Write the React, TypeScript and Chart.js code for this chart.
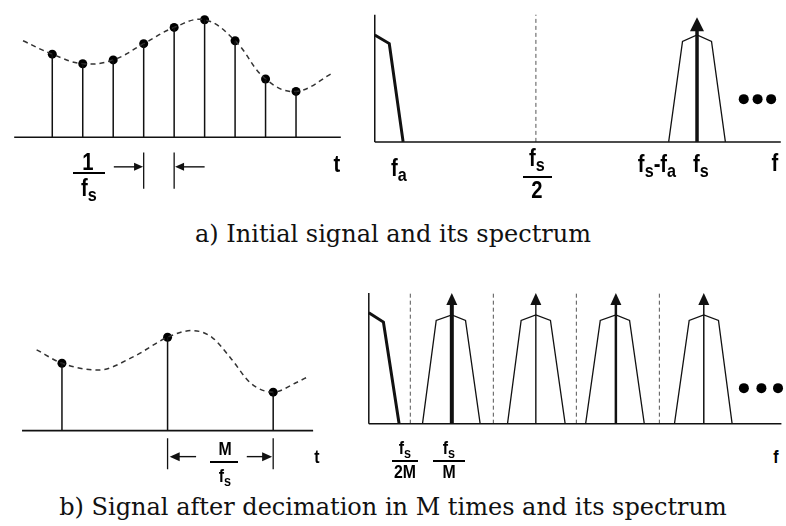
import React, { useEffect, useRef } from 'react';
import { Chart, registerables } from 'chart.js';

Chart.register(...registerables);

// ---------- a) initial signal (time in sample periods, arbitrary amplitude) ----------
const sampleTimes = [1, 2, 3, 4, 5, 6, 7, 8, 9];
const sampleValues = [0.87, 0.77, 0.81, 0.98, 1.15, 1.23, 1.01, 0.61, 0.48];
const signalCurveTimes = [0.04, 1, 2, 3, 4, 5, 6, 7, 8, 9, 10.25];
const signalCurveValues = [1.01, 0.87, 0.77, 0.81, 0.98, 1.15, 1.23, 1.01, 0.61, 0.48, 0.68];
const timeAxisExtent = [-0.25, 10.47];
const periodTicks = [4, 5];
const periodArrowRight = [3.02, 3.98];
const periodArrowLeft = [6.0, 5.03];

// ---------- a) spectrum (frequency in units of fs) ----------
const basebandFreq = [0, 0.045, 0.088];
const basebandMag = [1.0, 0.92, 0];
const imageFreq = [0.912, 0.955, 1.0, 1.045, 1.088];
const imageMag = [0, 0.94, 1.0, 0.94, 0];
const freqAxisExtent = [0, 1.26];
const freqAxisTop = 1.19;
const nyquistFreq = [0.5];
const lineArrowFreq = [1.0];
const lineArrowTip = 1.165;
const ellipsisFreq = [1.145, 1.188, 1.23];
const ellipsisMag = 0.4;

// ---------- b) decimated signal (time in decimated sample periods) ----------
const decSampleIdx = [1, 2, 3];
const decSampleValues = [0.7, 0.97, 0.4];
const decCurveIdx = [0.76, 1, 1.35, 1.68, 2.0, 2.23, 2.42, 2.6, 2.79, 3.0, 3.22, 3.33];
const decCurveValues = [0.84, 0.7, 0.63, 0.77, 0.97, 1.04, 0.97, 0.75, 0.49, 0.4, 0.5, 0.56];
const decTimeExtent = [0.622, 3.378];
const decPeriodTicks = [2, 3];
const decArrowLeft = [2.27, 2.02];
const decArrowRight = [2.75, 2.99];

// ---------- b) decimated spectrum (frequency in units of fs/M) ----------
const decBasebandFreq = [0, 0.176, 0.365];
const decBasebandMag = [1.0, 0.915, 0];
const decImageFreqs = [
  [0.647, 0.812, 1.0, 1.165, 1.341],
  [1.671, 1.835, 2.012, 2.188, 2.365],
  [2.612, 2.788, 2.976, 3.141, 3.318],
  [3.682, 3.859, 4.035, 4.212, 4.376],
];
const decImageMag = [0, 0.93, 0.98, 0.93, 0];
const decArrowFreq = [1.0, 2.012, 2.976, 4.035];
const decArrowWidths = [4, 1.4, 2.5, 1.5];
const decArrowTip = 1.178;
const decFoldFreq = [0.5, 1.5, 2.5, 3.5];
const decAxisExtent = [0, 4.97];
const decAxisTop = 1.178;
const decEllipsisFreq = [4.518, 4.729, 4.929];
const decEllipsisMag = 0.32;

const INK = '#111';
const DASH = '#555';
const LABEL_FONT = '"Liberation Sans Narrow", "Arial Narrow", "Liberation Sans", Arial, sans-serif';
const CAPTION_FONT = '"DejaVu Serif", Georgia, serif';

const pts = (xs: number[], ys: number[]) => xs.map((x, i) => ({ x, y: ys[i] }));

const line = (xs: number[], ys: number[], opts: any = {}) => ({
  data: pts(xs, ys),
  showLine: true,
  borderColor: INK,
  backgroundColor: INK,
  borderWidth: 1.3,
  pointRadius: 0,
  tension: 0,
  clip: false,
  ...opts,
});

const verticals = (xs: number[], y0: number | number[], y1: number | number[], opts: any = {}) => ({
  data: xs.flatMap((x, i) => [
    { x, y: Array.isArray(y0) ? y0[i] : y0 },
    { x, y: Array.isArray(y1) ? y1[i] : y1 },
    { x, y: null },
  ]),
  showLine: true,
  spanGaps: false,
  borderColor: INK,
  borderWidth: 1.3,
  pointRadius: 0,
  clip: false,
  ...opts,
});

const dots = (xs: number[], ys: number[], r: number) => ({
  data: pts(xs, ys),
  showLine: false,
  pointRadius: r,
  pointBackgroundColor: '#000',
  pointBorderColor: '#000',
  pointBorderWidth: 0,
  clip: false,
});

const arrow = (from: [number, number], to: [number, number], width: number, head: { length: number; width: number }) => ({
  data: [
    { x: from[0], y: from[1] },
    { x: to[0], y: to[1] },
  ],
  showLine: false,
  pointRadius: 0,
  borderColor: INK,
  borderWidth: width,
  arrow: head,
  clip: false,
});

const arrowPlugin = {
  id: 'arrows',
  afterDatasetsDraw(chart: any) {
    const ctx = chart.ctx;
    chart.data.datasets.forEach((ds: any, i: number) => {
      if (!ds.arrow) return;
      const el = chart.getDatasetMeta(i).data;
      const a = el[0];
      const b = el[el.length - 1];
      const dx = b.x - a.x;
      const dy = b.y - a.y;
      const len = Math.hypot(dx, dy) || 1;
      const ux = dx / len;
      const uy = dy / len;
      const L = ds.arrow.length;
      const W = ds.arrow.width / 2;
      const bx = b.x - ux * L;
      const by = b.y - uy * L;
      ctx.save();
      ctx.strokeStyle = ds.borderColor;
      ctx.lineWidth = ds.borderWidth;
      ctx.beginPath();
      ctx.moveTo(a.x, a.y);
      ctx.lineTo(bx + ux, by + uy);
      ctx.stroke();
      ctx.fillStyle = ds.borderColor;
      ctx.beginPath();
      ctx.moveTo(b.x, b.y);
      ctx.lineTo(bx - uy * W, by + ux * W);
      ctx.lineTo(bx + uy * W, by - ux * W);
      ctx.closePath();
      ctx.fill();
      ctx.restore();
    });
  },
};

type PanelProps = {
  left: number;
  top: number;
  width: number;
  height: number;
  x: [number, number];
  y: [number, number];
  datasets: any[];
};

function Panel(p: PanelProps) {
  const ref = useRef<HTMLCanvasElement>(null);
  useEffect(() => {
    const chart = new Chart(ref.current as HTMLCanvasElement, {
      type: 'scatter',
      data: { datasets: p.datasets },
      options: {
        responsive: false,
        animation: false,
        events: [],
        layout: { padding: 0 },
        plugins: { legend: { display: false }, tooltip: { enabled: false } },
        scales: {
          x: { type: 'linear', display: false, min: p.x[0], max: p.x[1] },
          y: { type: 'linear', display: false, min: p.y[0], max: p.y[1] },
        },
      } as any,
      plugins: [arrowPlugin],
    });
    return () => chart.destroy();
  }, []);
  return (
    <canvas
      ref={ref}
      width={p.width}
      height={p.height}
      style={{ position: 'absolute', left: p.left, top: p.top, width: p.width, height: p.height }}
    />
  );
}

function Sub({ children }: { children: any }) {
  return <span style={{ fontSize: '0.8em', position: 'relative', top: '0.28em' }}>{children}</span>;
}

function Txt({ x, base, size, sx = 0.88, children }: { x: number; base: number; size: number; sx?: number; children: any }) {
  return (
    <div
      style={{
        position: 'absolute',
        left: x,
        top: base - 0.8465 * size,
        transform: `translateX(-50%) scaleX(${sx})`,
        fontSize: size,
        lineHeight: 1,
        fontWeight: 'bold',
        fontFamily: LABEL_FONT,
        whiteSpace: 'nowrap',
        color: '#000',
      }}
    >
      {children}
    </div>
  );
}

function Bar({ x0, x1, y }: { x0: number; x1: number; y: number }) {
  return <div style={{ position: 'absolute', left: x0, top: y, width: x1 - x0, height: 1.5, background: '#000' }} />;
}

function Caption({ top, children }: { top: number; children: any }) {
  return (
    <div
      style={{
        position: 'absolute',
        left: 0,
        width: 786,
        top,
        textAlign: 'center',
        fontFamily: CAPTION_FONT,
        fontSize: 24,
        lineHeight: '28px',
        color: '#111',
        whiteSpace: 'nowrap',
      }}
    >
      {children}
    </div>
  );
}

const TOP = 23;
const BOT = 18;

export default function App() {
  const panelA = [
    line(timeAxisExtent, [0, 0], { borderWidth: 1.6 }),
    verticals(sampleTimes, 0, sampleValues, { borderWidth: 1.5 }),
    line(signalCurveTimes, signalCurveValues, { borderDash: [5, 4], borderWidth: 1.5, borderColor: '#333', tension: 0.4 }),
    dots(sampleTimes, sampleValues, 4.5),
    verticals(periodTicks, -0.16, -0.54, { borderWidth: 1.3 }),
    arrow([periodArrowRight[0], -0.31], [periodArrowRight[1], -0.31], 1.4, { length: 9, width: 8 }),
    arrow([periodArrowLeft[0], -0.31], [periodArrowLeft[1], -0.31], 1.4, { length: 9, width: 8 }),
  ];

  const panelB = [
    line(freqAxisExtent, [0, 0], { borderWidth: 1.5 }),
    verticals([0], 0, freqAxisTop, { borderWidth: 1.5 }),
    verticals(nyquistFreq, 0, freqAxisTop, { borderDash: [4, 3], borderWidth: 1, borderColor: DASH }),
    line(basebandFreq, basebandMag, { borderWidth: 3 }),
    line(imageFreq, imageMag, { borderWidth: 1.3 }),
    arrow([lineArrowFreq[0], 0], [lineArrowFreq[0], lineArrowTip], 3.5, { length: 14, width: 14 }),
    dots(ellipsisFreq, ellipsisFreq.map(() => ellipsisMag), 5),
  ];

  const panelC = [
    line(decTimeExtent, [0, 0], { borderWidth: 1.6 }),
    verticals(decSampleIdx, 0, decSampleValues, { borderWidth: 1.5 }),
    line(decCurveIdx, decCurveValues, {
      borderDash: [5, 4],
      borderWidth: 1.5,
      borderColor: '#333',
      cubicInterpolationMode: 'monotone',
    }),
    dots(decSampleIdx, decSampleValues, 4.5),
    verticals(decPeriodTicks, -0.08, -0.4, { borderWidth: 1.3 }),
    arrow([decArrowLeft[0], -0.27], [decArrowLeft[1], -0.27], 1.4, { length: 10, width: 9 }),
    arrow([decArrowRight[0], -0.27], [decArrowRight[1], -0.27], 1.4, { length: 10, width: 9 }),
  ];

  const panelD = [
    line(decAxisExtent, [0, 0], { borderWidth: 1.5 }),
    verticals([0], 0, decAxisTop, { borderWidth: 1.5 }),
    verticals(decFoldFreq, 0, decAxisTop, { borderDash: [4, 3], borderWidth: 1, borderColor: DASH }),
    line(decBasebandFreq, decBasebandMag, { borderWidth: 3 }),
    ...decImageFreqs.map((f) => line(f, decImageMag, { borderWidth: 1.3 })),
    ...decArrowFreq.map((f, i) => arrow([f, 0], [f, decArrowTip], decArrowWidths[i], { length: 12, width: 11 })),
    dots(decEllipsisFreq, decEllipsisFreq.map(() => decEllipsisMag), 5),
  ];

  return (
    <div style={{ position: 'fixed', left: 0, top: 0, width: 786, height: 526, background: '#fff', overflow: 'hidden' }}>
      <Panel left={0} top={0} width={360} height={200} x={[-0.568, 10.952]} y={[-0.61, 1.39]} datasets={panelA} />
      <Panel left={360} top={0} width={426} height={160} x={[-0.0303, 1.2606]} y={[-0.1228, 1.2807]} datasets={panelB} />
      <Panel left={0} top={250} width={340} height={240} x={[0.456, 3.59]} y={[-0.57, 1.83]} datasets={panelC} />
      <Panel left={355} top={270} width={431} height={170} x={[-0.106, 4.965]} y={[-0.102, 1.339]} datasets={panelD} />

      {/* top-left labels */}
      <Txt x={88} base={170} size={TOP}>1</Txt>
      <Bar x0={73} x1={105} y={172} />
      <Txt x={89} base={196} size={TOP}>f<Sub>s</Sub></Txt>
      <Txt x={337} base={172} size={TOP}>t</Txt>

      {/* top-right labels */}
      <Txt x={399} base={176} size={TOP}>f<Sub>a</Sub></Txt>
      <Txt x={537} base={166} size={TOP}>f<Sub>s</Sub></Txt>
      <Bar x0={523} x1={552} y={176} />
      <Txt x={537} base={198} size={TOP}>2</Txt>
      <Txt x={657} base={172} size={TOP}>f<Sub>s</Sub>-f<Sub>a</Sub></Txt>
      <Txt x={701} base={172} size={TOP}>f<Sub>s</Sub></Txt>
      <Txt x={775} base={171} size={TOP}>f</Txt>

      <Caption top={220}>a) Initial signal and its spectrum</Caption>

      {/* bottom-left labels */}
      <Txt x={225} base={455} size={BOT}>M</Txt>
      <Bar x0={210} x1={238} y={461} />
      <Txt x={225} base={482} size={BOT}>f<Sub>s</Sub></Txt>
      <Txt x={317} base={463} size={BOT}>t</Txt>

      {/* bottom-right labels */}
      <Txt x={405} base={454} size={BOT}>f<Sub>s</Sub></Txt>
      <Bar x0={392} x1={418} y={460} />
      <Txt x={405} base={478} size={BOT}>2M</Txt>
      <Txt x={449} base={454} size={BOT}>f<Sub>s</Sub></Txt>
      <Bar x0={433} x1={465} y={460} />
      <Txt x={449} base={478} size={BOT}>M</Txt>
      <Txt x={776} base={463} size={BOT}>f</Txt>

      <Caption top={493}>b) Signal after decimation in M times and its spectrum</Caption>
    </div>
  );
}
